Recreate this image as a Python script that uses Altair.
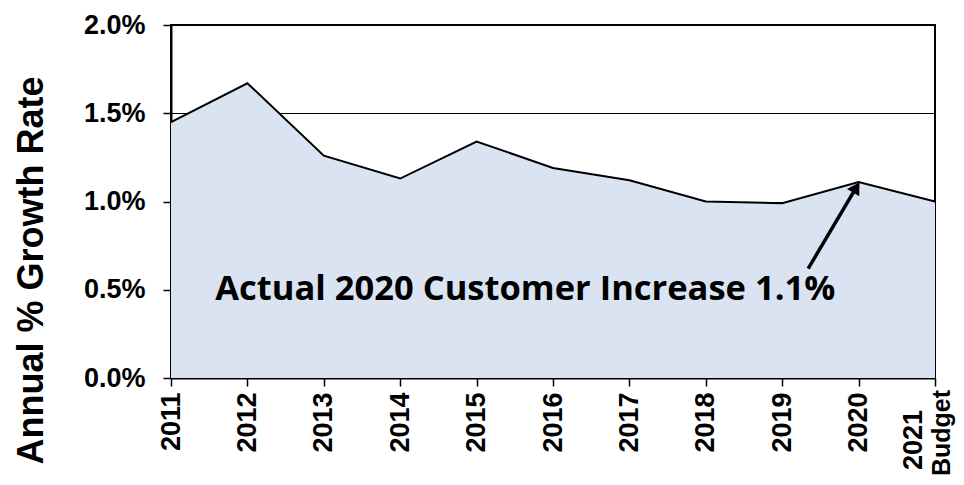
import altair as alt
import pandas as pd

years = [2011, 2012, 2013, 2014, 2015, 2016, 2017, 2018, 2019, 2020, 2021]
growth = [0.0145, 0.0167, 0.0126, 0.0113, 0.0134, 0.0119, 0.0112, 0.0100, 0.0099, 0.0111, 0.0100]
y_ticks = [0.0, 0.005, 0.010, 0.015, 0.020]
budget_label = ["2021", "Budget"]

note_text = ["Actual 2020 Customer Increase 1.1%"]
note_x = [2011.58]
note_y = [0.0050]

arrow_x = [2019.34]
arrow_y = [0.0062]
arrow_x2 = [2019.97]
arrow_y2 = [0.0108]

df = pd.DataFrame({"year": years, "growth": growth})
note_df = pd.DataFrame({"x": note_x, "y": note_y, "t": note_text})
arrow_df = pd.DataFrame({"x": arrow_x, "y": arrow_y, "x2": arrow_x2, "y2": arrow_y2})
budget_df = pd.DataFrame({"x": [years[-1]], "y": [0.0], "l1": [budget_label[0]], "l2": [budget_label[1]]})

FONT = "Liberation Sans"

x_enc = alt.X(
    "year:Q",
    scale=alt.Scale(domain=[2011, 2021], nice=False, zero=False),
    axis=alt.Axis(
        values=years,
        format="d",
        labelExpr="datum.value == 2021 ? '' : datum.label",
        labelAngle=270,
        labelAlign="right",
        labelBaseline="middle",
        labelFont=FONT,
        labelFontSize=27,
        labelFontWeight="bold",
        labelColor="black",
        labelPadding=6,
        ticks=True,
        tickSize=8,
        tickColor="black",
        tickWidth=1.5,
        domainColor="black",
        domainWidth=2,
        grid=False,
        title=None,
    ),
)

y_enc = alt.Y(
    "growth:Q",
    scale=alt.Scale(domain=[0, 0.02], nice=False),
    axis=alt.Axis(
        values=y_ticks,
        format=".1%",
        labelFont=FONT,
        labelFontSize=27,
        labelFontWeight="bold",
        labelColor="black",
        labelPadding=18,
        tickSize=8,
        tickColor="black",
        tickWidth=1.5,
        domainColor="black",
        domainWidth=2,
        grid=True,
        gridColor="black",
        gridWidth=1,
        title="Annual % Growth Rate",
        titleFont=FONT,
        titleFontSize=36,
        titleFontWeight="bold",
        titleColor="black",
        titleAngle=270,
        titleAlign="center",
        titleBaseline="alphabetic",
        titleX=-129,
        titleY=245,
    ),
)

area = alt.Chart(df).mark_area(color="#dae3f1", opacity=1).encode(x=x_enc, y=y_enc)
line = alt.Chart(df).mark_line(color="black", strokeWidth=2).encode(x="year:Q", y="growth:Q")

arrow = alt.Chart(arrow_df).mark_rule(color="black", strokeWidth=3.5).encode(
    x="x:Q", y="y:Q", x2="x2:Q", y2="y2:Q"
)
head = alt.Chart(arrow_df).mark_point(
    shape="triangle-up", filled=True, color="black", opacity=1, size=200, angle=31
).encode(x="x2:Q", y="y2:Q")

note = alt.Chart(note_df).mark_text(
    align="left", baseline="middle", font="Open Sans", fontSize=34.5, fontWeight="bold", color="black"
).encode(x="x:Q", y="y:Q", text="t:N")

budget1 = alt.Chart(budget_df).mark_text(
    align="center", baseline="middle", angle=270, dx=-62, dy=-21,
    font=FONT, fontSize=27, fontWeight="bold", color="black",
).encode(x="x:Q", y="y:Q", text="l1:N")
budget2 = alt.Chart(budget_df).mark_text(
    align="center", baseline="middle", angle=270, dx=-55, dy=7,
    font=FONT, fontSize=25, fontWeight="bold", color="black",
).encode(x="x:Q", y="y:Q", text="l2:N")

chart = (
    alt.layer(area, line, arrow, head, note, budget1, budget2)
    .properties(
        width=764,
        height=353,
        autosize=alt.AutoSizeParams(type="none"),
        padding={"left": 163, "top": 17, "right": 21, "bottom": 99},
        background="white",
    )
    .configure_view(stroke="black", strokeWidth=2)
)

chart.save("out.html", embed_options={"renderer": "svg", "actions": False})
